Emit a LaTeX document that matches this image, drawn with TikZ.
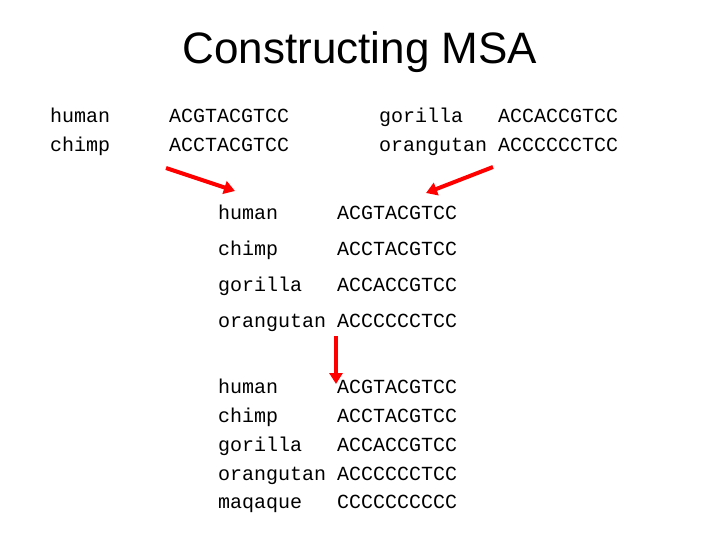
\documentclass[tikz,border=0pt]{standalone}
\usepackage{fontspec}
\setmainfont{Liberation Sans}
\newfontfamily\seqfont{Liberation Mono}
\usetikzlibrary{arrows.meta}

\begin{document}
\begin{tikzpicture}[x=1pt, y=-1pt,
  every node/.style={inner sep=0pt, anchor=base west, font=\seqfont\fontsize{20}{24}\selectfont},
  merge/.style={red, line width=4pt, -{Triangle[length=11pt,width=13pt]}}]
  \useasboundingbox (0,0) rectangle (720,540);
  %----- one row: name and sequence -----
  \def\taxon#1#2#3#4#5{ % (id, x, baseline, name, sequence)
    \node (#1) at (#2,#3) {#4};
    \node (#1seq) at (#2+119,#3) {#5};
  }
  %----- title -----
  \node[anchor=base, font=\fontsize{44}{52}\selectfont] (title) at (360,64) {Constructing MSA};

  %----- pair 1: human / chimp -----
  \taxon{hA}{50}{123}{human}{ACGTACGTCC}
  \taxon{cA}{50}{152}{chimp}{ACCTACGTCC}
  %----- pair 2: gorilla / orangutan -----
  \taxon{gA}{379}{123}{gorilla}{ACCACCGTCC}
  \taxon{oA}{379}{152}{orangutan}{ACCCCCCTCC}

  %----- merged 4 -----
  \taxon{hB}{218}{219}{human}{ACGTACGTCC}
  \taxon{cB}{218}{255}{chimp}{ACCTACGTCC}
  \taxon{gB}{218}{291}{gorilla}{ACCACCGTCC}
  \taxon{oB}{218}{327}{orangutan}{ACCCCCCTCC}

  %----- final 5 -----
  \taxon{hC}{218}{393}{human}{ACGTACGTCC}
  \taxon{cC}{218}{422}{chimp}{ACCTACGTCC}
  \taxon{gC}{218}{451}{gorilla}{ACCACCGTCC}
  \taxon{oC}{218}{480}{orangutan}{ACCCCCCTCC}
  \taxon{mC}{218}{508}{maqaque}{CCCCCCCCCC}

  %----- arrows -----
  \coordinate (leftfrom)  at (166,168);
  \coordinate (leftto)    at (235,191);
  \coordinate (rightfrom) at (493,167);
  \coordinate (rightto)   at (426,193);
  \coordinate (downfrom)  at (336,336);
  \coordinate (downto)    at (336,384);
  \draw[merge] (leftfrom) -- (leftto);
  \draw[merge] (rightfrom) -- (rightto);
  \draw[merge] (downfrom) -- (downto);
\end{tikzpicture}
\end{document}
